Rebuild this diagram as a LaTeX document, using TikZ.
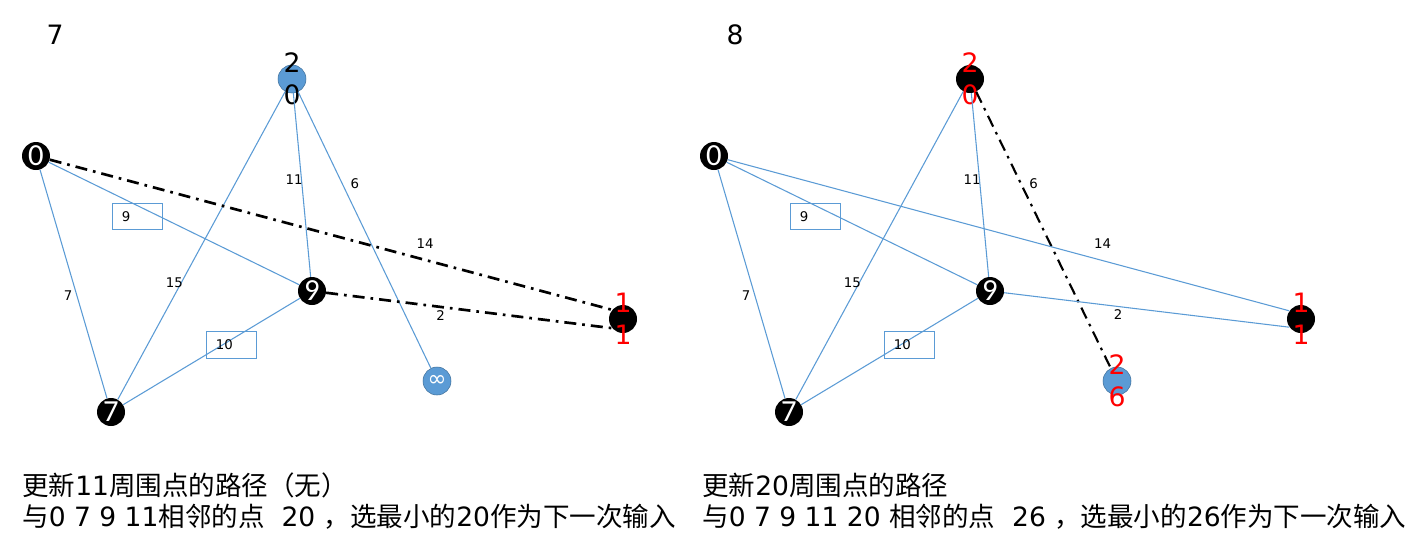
\documentclass[tikz,border=0pt]{standalone}
\usepackage{fontspec}
\setmainfont{DejaVu Sans}
\newfontfamily\zhfont{Noto Sans CJK SC}
\newfontfamily\calfont{Carlito}
\newcommand{\zh}[1]{{\zhfont #1}}
\definecolor{nodeblue}{HTML}{5B9BD5}
\definecolor{rimblue}{HTML}{41719C}

\begin{document}
\begin{tikzpicture}[x=0.75pt,y=-0.75pt]
  \tikzstyle{visited}=[circle,fill=black,draw=none,minimum size=21pt,inner sep=0pt,
                       text=white,font=\calfont\fontsize{23}{23}\selectfont]
  \tikzstyle{waiting}=[circle,fill=nodeblue,draw=rimblue,thin,minimum size=21pt,inner sep=0pt,
                       text=white,font=\fontsize{17}{17}\selectfont]
  \tikzstyle{tag}=[font=\fontsize{20}{24}\selectfont,align=center,inner sep=0pt]
  \tikzstyle{link}=[draw=nodeblue,line width=0.8pt]
  \tikzstyle{best}=[draw=black,line width=2pt,dash pattern=on 9pt off 4.5pt on 2pt off 4.5pt]
  \tikzstyle{weight}=[font=\fontsize{10}{12}\selectfont,inner sep=1pt]
  \tikzstyle{wbox}=[weight,draw=nodeblue,thin,inner xsep=7pt,text width=23.5pt,
                    align=left,minimum height=20pt]
  \tikzstyle{step title}=[font=\fontsize{20}{24}\selectfont,inner sep=0pt]
  \tikzstyle{note}=[font=\fontsize{19.9}{23.5}\selectfont,align=left,anchor=west,inner sep=0pt]

  \useasboundingbox (0,0) rectangle (1413,537);

  % step 7
  \node[step title] (t7) at (55,35) {7};
  \node[visited] (a0)  at (36,156)  {0};
  \node[waiting] (a20) at (292,79)  [label={[tag]center:{2\\0}}] {};
  \node[visited] (a9)  at (312,291) {9};
  \node[visited] (a7)  at (111,412) {7};
  \node[visited] (a11) at (623,319) [label={[tag,text=red]center:{1\\1}}] {};
  \node[waiting] (ainf) at (437,381) {∞};
  \path (a0)  edge[link] node[weight,pos=.54,xshift=-6pt,yshift=-2pt] {7} (a7)
        (a0)  edge[link] node[wbox,pos=.37,xshift=-3pt,yshift=-6.5pt] {9} (a9)
        (a20) edge[link] node[weight,pos=.63,xshift=-4pt,yshift=2.3pt] {15} (a7)
        (a20) edge[link] node[weight,pos=.47,xshift=-5.6pt] {11} (a9)
        (a20) edge[link] node[weight,pos=.35,xshift=7.7pt,yshift=3.8pt] {6} (ainf)
        (a9)  edge[link] node[wbox,pos=.40,xshift=1.8pt,yshift=-2.9pt] {10} (a7)
        (a0)  edge[best] node[weight,pos=.66,xshift=3.2pt,yshift=11.7pt] {14} (a11.140)
        (a9)  edge[best] node[weight,pos=.40,yshift=-6.4pt] {2} (a11.220);
  \node[note] (n7) at (22,501)
    {\zh{更新}11\zh{周围点的路径（无）}\\
     \zh{与}0 7 9 11\zh{相邻的点}\ \ 20 \zh{，选最小的}20\zh{作为下一次输入}};

  % step 8
  \begin{scope}[xshift=508.5pt]
  \node[step title] (t8) at (57,35) {8};
  \node[visited] (b0)  at (36,156)  {0};
  \node[visited] (b20) at (292,79)  [label={[tag,text=red]center:{2\\0}}] {};
  \node[visited] (b9)  at (312,291) {9};
  \node[visited] (b7)  at (111,412) {7};
  \node[visited] (b11) at (623,319) [label={[tag,text=red]center:{1\\1}}] {};
  \node[waiting] (b26) at (439,381) [label={[tag,text=red]center:{2\\6}}] {};
  \path (b0)  edge[link] node[weight,pos=.54,xshift=-6pt,yshift=-2pt] {7} (b7)
        (b0)  edge[link] node[wbox,pos=.37,xshift=-3pt,yshift=-6.5pt] {9} (b9)
        (b20) edge[link] node[weight,pos=.63,xshift=-4pt,yshift=2.3pt] {15} (b7)
        (b20) edge[link] node[weight,pos=.47,xshift=-5.6pt] {11} (b9)
        (b20) edge[best,line width=1.6pt] node[weight,pos=.35,xshift=7.7pt,yshift=3.8pt] {6} (b26)
        (b9)  edge[link] node[wbox,pos=.40,xshift=1.8pt,yshift=-2.9pt] {10} (b7)
        (b0)  edge[link] node[weight,pos=.66,xshift=3.2pt,yshift=11.7pt] {14} (b11.145)
        (b9)  edge[link] node[weight,pos=.40,yshift=-6.4pt] {2} (b11.215);
  \node[note] (n8) at (24,501)
    {\zh{更新}20\zh{周围点的路径}\\
     \zh{与}0 7 9 11 20 \zh{相邻的点}\ \ 26 \zh{，选最小的}26\zh{作为下一次输入}};
  \end{scope}
\end{tikzpicture}
\end{document}
